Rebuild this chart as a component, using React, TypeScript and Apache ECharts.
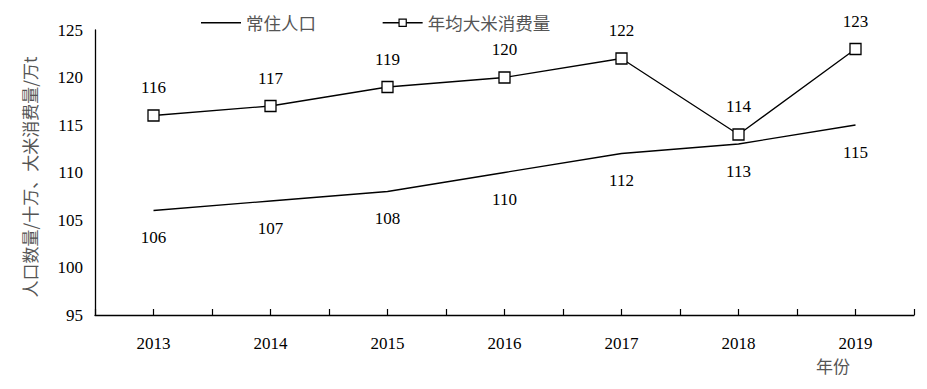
import React, { useEffect, useRef } from "react";
import * as echarts from "echarts";

const years = ["2013", "2014", "2015", "2016", "2017", "2018", "2019"];
const population = [106, 107, 108, 110, 112, 113, 115];
const rice = [116, 117, 119, 120, 122, 114, 123];
const seriesNames = ["常住人口", "年均大米消费量"];
const yTitle = "人口数量/十万、大米消费量/万t";

export default function App() {
  const ref = useRef<HTMLDivElement>(null);
  useEffect(() => {
    const chart = echarts.init(ref.current!, null, { renderer: "svg" });
    const serif = "Liberation Serif";
    const cjk = "Noto Sans CJK SC";
    chart.setOption({
      animation: false,
      backgroundColor: "#fff",
      grid: { left: 95, right: 13, top: 30, bottom: 74 },
      legend: {
        left: 196,
        top: 9,
        itemWidth: 40,
        itemHeight: 9,
        itemGap: 66,
        lineStyle: { width: 1.3 },
        itemStyle: { borderWidth: 1.2 },
        textStyle: { fontFamily: cjk, fontSize: 17.5, color: "#555" },
        data: [
          { name: seriesNames[0], icon: "path://M0,0L40,0L40,1.4L0,1.4Z" },
          { name: seriesNames[1] },
        ],
      },
      graphic: [
        {
          type: "text",
          x: 29,
          y: 177,
          rotation: Math.PI / 2,
          style: {
            text: yTitle,
            fontFamily: cjk,
            fontSize: 17,
            fill: "#555",
            align: "center",
            verticalAlign: "middle",
          },
        },
      ],
      xAxis: [
        {
          type: "category",
          data: years,
          boundaryGap: true,
          name: "年份",
          nameLocation: "end",
          nameGap: 0,
          nameTextStyle: {
            fontFamily: cjk,
            fontSize: 17,
            color: "#555",
            align: "right",
            verticalAlign: "top",
            padding: [42, 64, 0, 0],
          },
          axisLine: { lineStyle: { color: "#000", width: 1.3 } },
          axisTick: { show: true, inside: true, length: 6, lineStyle: { color: "#000", width: 1.2 } },
          axisLabel: { fontFamily: serif, fontSize: 17, color: "#000", margin: 20 },
        },
        {
          type: "category",
          data: years,
          boundaryGap: true,
          position: "bottom",
          axisLine: { show: false },
          axisTick: { show: true, inside: true, length: 6, alignWithLabel: true, lineStyle: { color: "#000", width: 1.2 } },
          axisLabel: { show: false },
        },
      ],
      yAxis: {
        type: "value",
        min: 95,
        max: 125,
        interval: 5,
        axisLine: { show: true, lineStyle: { color: "#000", width: 1.3 } },
        axisTick: { show: false },
        splitLine: { show: false },
        axisLabel: { fontFamily: serif, fontSize: 17, color: "#000", margin: 12 },
      },
      series: [
        {
          name: seriesNames[0],
          type: "line",
          data: population,
          symbol: "none",
          lineStyle: { color: "#000", width: 1.3 },
          itemStyle: { color: "#000" },
        },
        {
          name: "populationLabels",
          type: "scatter",
          data: population,
          symbolSize: 1,
          itemStyle: { color: "rgba(0,0,0,0)", opacity: 1 },
          silent: true,
          z: 5,
          label: {
            show: true,
            position: "bottom",
            distance: 18,
            fontFamily: serif,
            fontSize: 17,
            color: "#000",
            opacity: 1,
          },
        },
        {
          name: seriesNames[1],
          type: "line",
          data: rice,
          symbol: "rect",
          symbolSize: 11,
          lineStyle: { color: "#000", width: 1.3 },
          itemStyle: { color: "#fff", borderColor: "#000", borderWidth: 1.3 },
          label: {
            show: true,
            position: "top",
            distance: 13,
            fontFamily: serif,
            fontSize: 17,
            color: "#000",
          },
        },
      ],
    });
    return () => chart.dispose();
  }, []);
  return <div ref={ref} style={{ width: 927, height: 389, position: "absolute", left: 0, top: 0 }} />;
}
